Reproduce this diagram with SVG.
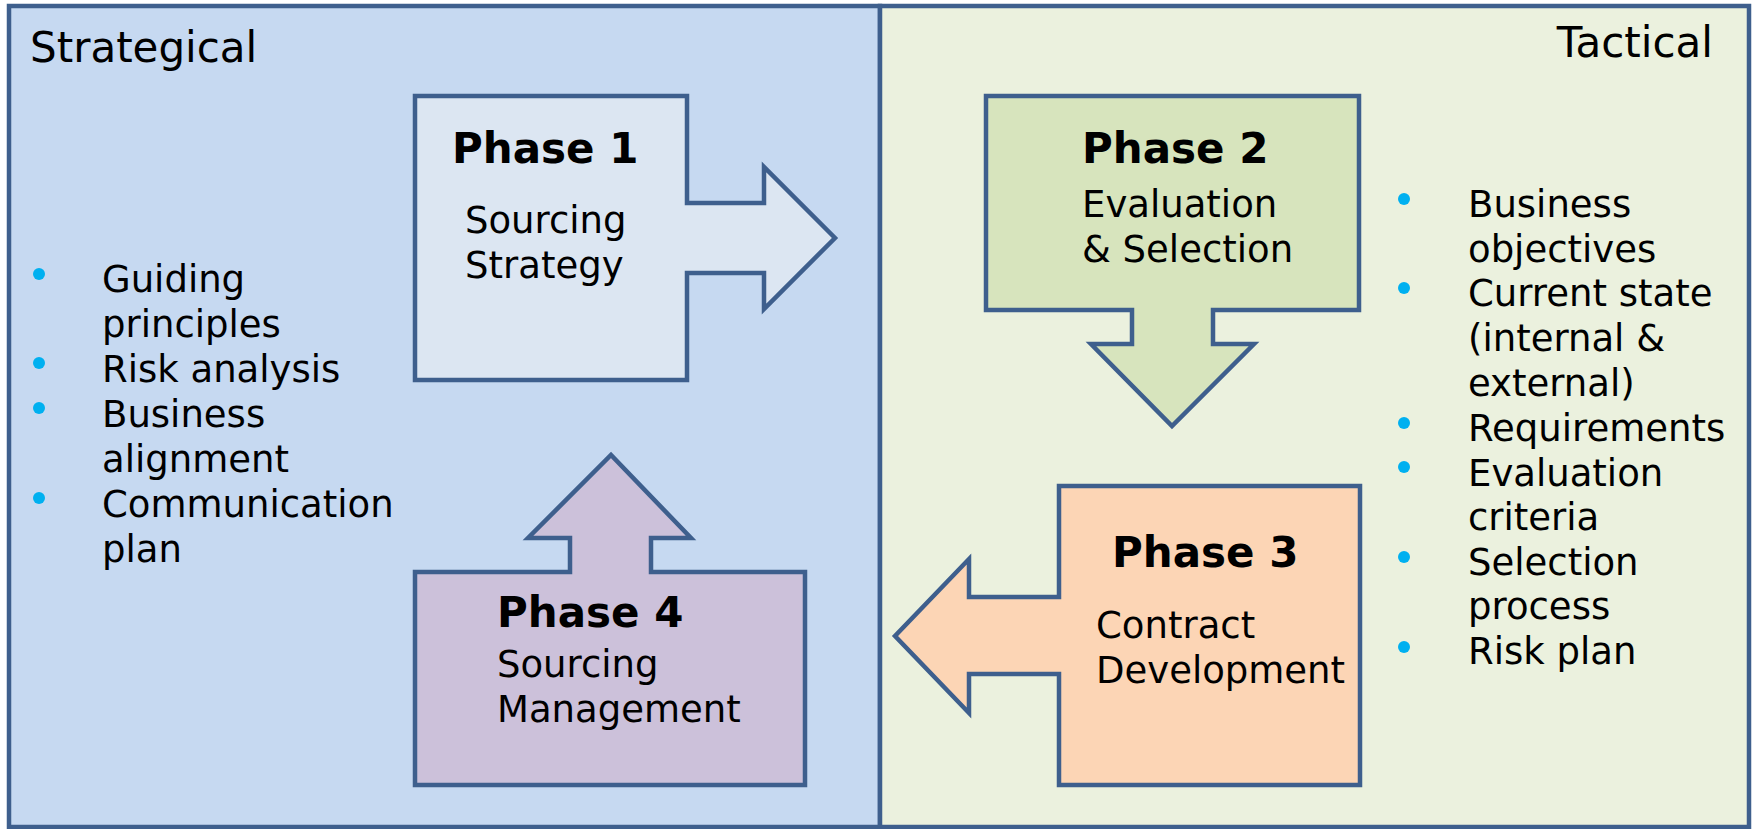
<svg xmlns="http://www.w3.org/2000/svg" width="1755" height="829" viewBox="0 0 1755 829">
<style>
.panel{stroke:#3E5F8D;stroke-width:4.5}
.shape{stroke:#3E5F8D;stroke-width:4.5;stroke-linejoin:miter}
text{font-family:"DejaVu Sans",Verdana,sans-serif;fill:#000}
.title{font-size:42px}
.ph{font-size:42px;font-weight:bold}
.t{font-size:37px}
.dot{fill:#00B0F0}
</style>
<rect width="1755" height="829" fill="#ffffff"/>
<g id="strategical">
<rect class="panel" x="9" y="6" width="871" height="821" fill="#C6D9F1"/>
<text class="title" x="30" y="62">Strategical</text>
</g>
<g id="tactical">
<rect class="panel" x="880" y="6" width="869" height="821" fill="#EBF1DE"/>
<text class="title" x="1713" y="57" text-anchor="end">Tactical</text>
</g>
<g id="strategical-list">
<circle class="dot" cx="39" cy="274" r="6"/>
<circle class="dot" cx="39" cy="363" r="6"/>
<circle class="dot" cx="39" cy="408" r="6"/>
<circle class="dot" cx="39" cy="498" r="6"/>
<text class="t" x="102" y="292">Guiding</text>
<text class="t" x="102" y="337">principles</text>
<text class="t" x="102" y="382">Risk analysis</text>
<text class="t" x="102" y="427">Business</text>
<text class="t" x="102" y="472">alignment</text>
<text class="t" x="102" y="517">Communication</text>
<text class="t" x="102" y="562">plan</text>
</g>
<g id="tactical-list">
<circle class="dot" cx="1404" cy="199" r="6"/>
<circle class="dot" cx="1404" cy="288" r="6"/>
<circle class="dot" cx="1404" cy="423" r="6"/>
<circle class="dot" cx="1404" cy="467" r="6"/>
<circle class="dot" cx="1404" cy="557" r="6"/>
<circle class="dot" cx="1404" cy="647" r="6"/>
<text class="t" x="1468" y="217">Business</text>
<text class="t" x="1468" y="262">objectives</text>
<text class="t" x="1468" y="306">Current state</text>
<text class="t" x="1468" y="351">(internal &amp;</text>
<text class="t" x="1468" y="396">external)</text>
<text class="t" x="1468" y="441">Requirements</text>
<text class="t" x="1468" y="486">Evaluation</text>
<text class="t" x="1468" y="530">criteria</text>
<text class="t" x="1468" y="575">Selection</text>
<text class="t" x="1468" y="619">process</text>
<text class="t" x="1468" y="664">Risk plan</text>
</g>
<g id="phase1">
<polygon class="shape" fill="#DCE6F2" points="415,96 687,96 687,203 764,203 764,167 835,238 764,309 764,273 687,273 687,380 415,380"/>
<text class="ph" x="452" y="163">Phase 1</text>
<text class="t" x="465" y="233">Sourcing</text>
<text class="t" x="465" y="278">Strategy</text>
</g>
<g id="phase2">
<polygon class="shape" fill="#D7E4BD" points="986,96 1359,96 1359,310 1213,310 1213,344 1254,344 1172,426 1091,344 1132,344 1132,310 986,310"/>
<text class="ph" x="1082" y="163">Phase 2</text>
<text class="t" x="1082" y="217">Evaluation</text>
<text class="t" x="1082" y="262">&amp; Selection</text>
</g>
<g id="phase3">
<polygon class="shape" fill="#FCD5B5" points="1059,486 1360,486 1360,785 1059,785 1059,674 969,674 969,713 895,636 969,559 969,597 1059,597"/>
<text class="ph" x="1112" y="567">Phase 3</text>
<text class="t" x="1096" y="638">Contract</text>
<text class="t" x="1096" y="683">Development</text>
</g>
<g id="phase4">
<polygon class="shape" fill="#CCC1DA" points="415,572 570,572 570,538 528,538 611,455 691,538 651,538 651,572 805,572 805,785 415,785"/>
<text class="ph" x="497" y="627">Phase 4</text>
<text class="t" x="497" y="677">Sourcing</text>
<text class="t" x="497" y="722">Management</text>
</g>
<g id="connectors"></g>
</svg>
